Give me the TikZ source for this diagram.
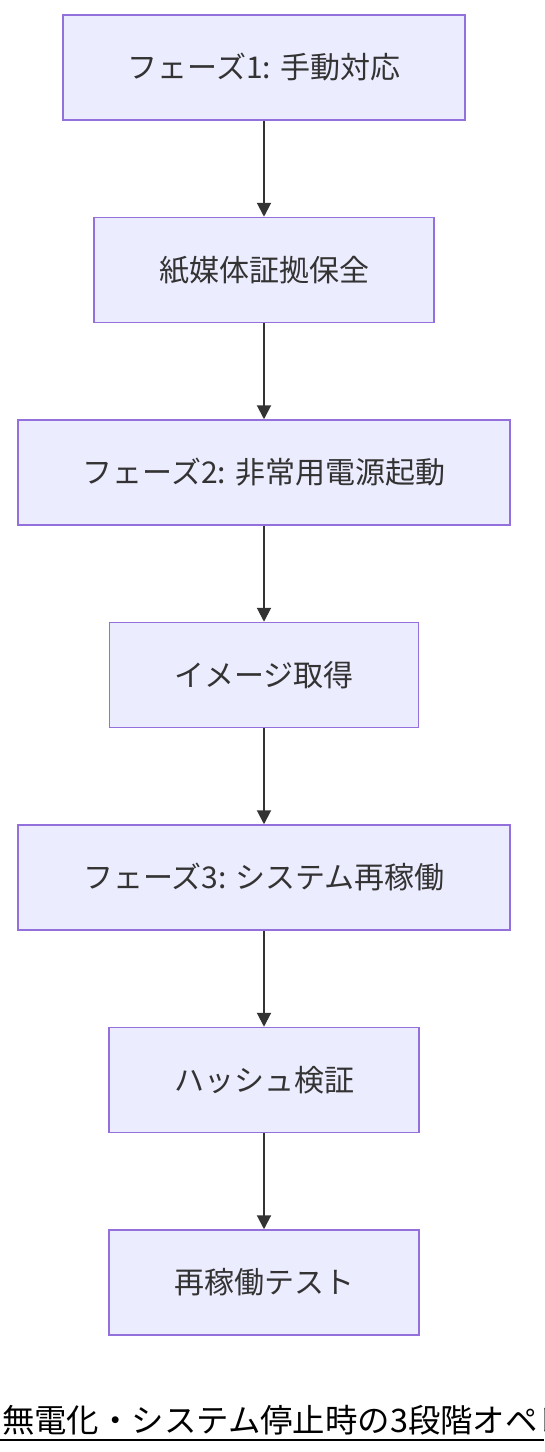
\documentclass[tikz,border=0pt]{standalone}
\usepackage{fontspec}
\setmainfont{Noto Sans CJK JP}
\usetikzlibrary{positioning, arrows.meta}
\definecolor{boxfill}{HTML}{ECECFF}
\definecolor{boxline}{HTML}{9370DB}
\definecolor{arrowline}{HTML}{333333}

\begin{document}
\begin{tikzpicture}[x=1pt, y=-1pt,
    stepbox/.style={draw=boxline, fill=boxfill, line width=1.5pt,
      minimum height=105pt, inner xsep=65pt, text=arrowline,
      font=\fontsize{30pt}{36pt}\selectfont},
    flow/.style={draw=arrowline, line width=2pt,
      -{Triangle[length=14pt, width=14pt]}},
    node distance=96pt]
    \useasboundingbox (0, 0) rectangle (544, 1452);
    \clip (0, 0) rectangle (544, 1452);
    \node[stepbox] (phase1) at (264, 67.5) {フェーズ1: 手動対応};
    \node[stepbox, below=of phase1] (paper) {紙媒体証拠保全};
    \node[stepbox, below=of paper] (phase2) {フェーズ2: 非常用電源起動};
    \node[stepbox, below=of phase2] (image) {イメージ取得};
    \node[stepbox, below=of image] (phase3) {フェーズ3: システム再稼働};
    \node[stepbox, below=of phase3] (hash) {ハッシュ検証};
    \node[stepbox, below=of hash] (retest) {再稼働テスト};
    \foreach \a/\b in {phase1/paper, paper/phase2, phase2/image,
                       image/phase3, phase3/hash, hash/retest}
      \draw[flow] (\a) -- (\b);
    % title, cut off at the right edge as in the original
    \node[anchor=base west, inner sep=0pt, font=\fontsize{32.4pt}{38pt}\selectfont]
      (title) at (2, 1432) {無電化・システム停止時の3段階オペレーション};
    \draw[line width=2pt] (0, 1440) -- (544, 1440);
\end{tikzpicture}
\end{document}
